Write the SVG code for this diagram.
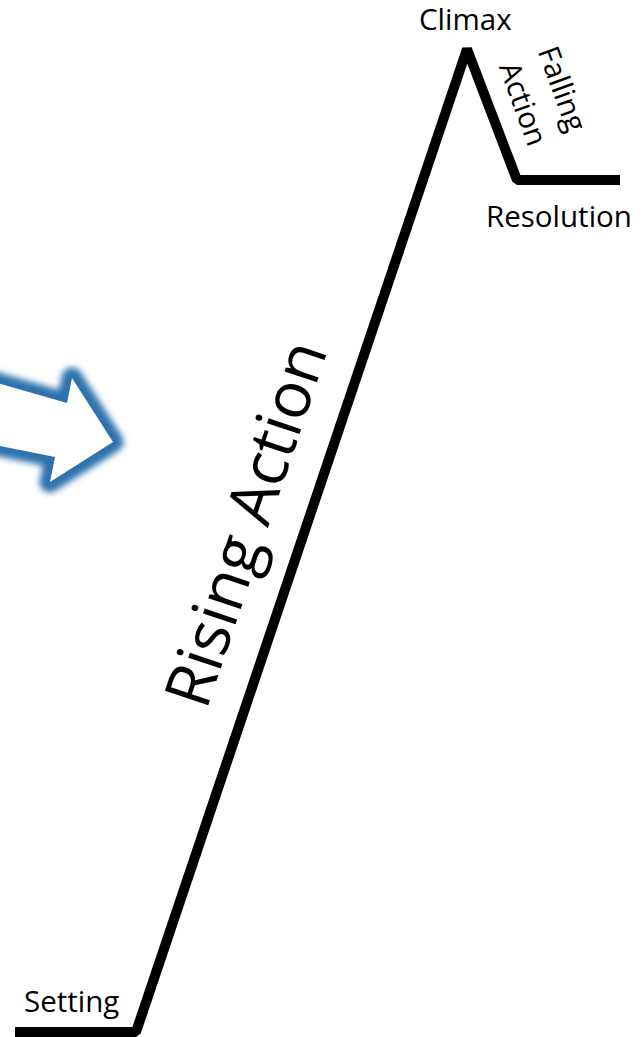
<svg xmlns="http://www.w3.org/2000/svg" width="642" height="1037" viewBox="0 0 642 1037">
  <defs>
    <filter id="glow" x="-30%" y="-30%" width="160%" height="160%">
      <feGaussianBlur stdDeviation="3"/>
    </filter>
    <style>
      .lbl { font-family: "Open Sans", "Liberation Sans", sans-serif; font-size: 29.5px; fill: #000; }
      .big { font-family: "Open Sans", "Liberation Sans", sans-serif; font-size: 64px; fill: #000; }
      .plot { fill: none; stroke: #000; stroke-width: 10; stroke-linejoin: bevel; stroke-linecap: butt; }
    </style>
  </defs>
  <rect width="642" height="1037" fill="#fff"/>

  <g id="arrow">
    <path d="M-20,378 L67,403 L72,378 L113,442 L50,482 L55,457 L-20,442 Z" fill="#2f72ad" stroke="#2f72ad" stroke-width="21" stroke-linejoin="round" filter="url(#glow)"/>
    <path d="M-20,378 L67,403 L72,378 L113,442 L50,482 L55,457 L-20,442 Z" fill="#fff"/>
  </g>

  <g id="connectors">
    <polyline class="plot" points="15,1032 136,1032 467,49 517,180 620,180"/>
  </g>

  <g id="climax"><text class="lbl" x="419" y="30">Climax</text></g>
  <g id="resolution"><text class="lbl" x="486" y="227">Resolution</text></g>
  <g id="setting"><text class="lbl" x="24" y="1012">Setting</text></g>
  <g id="falling-action">
    <g transform="translate(562,89) rotate(70)"><text class="lbl" x="0" y="10" text-anchor="middle">Falling</text></g>
    <g transform="translate(523,104) rotate(70)"><text class="lbl" x="0" y="10" text-anchor="middle">Action</text></g>
  </g>
  <g id="rising-action">
    <g transform="translate(250,525) rotate(-71.4)"><text class="big" x="0" y="18" text-anchor="middle">Rising Action</text></g>
  </g>
</svg>
